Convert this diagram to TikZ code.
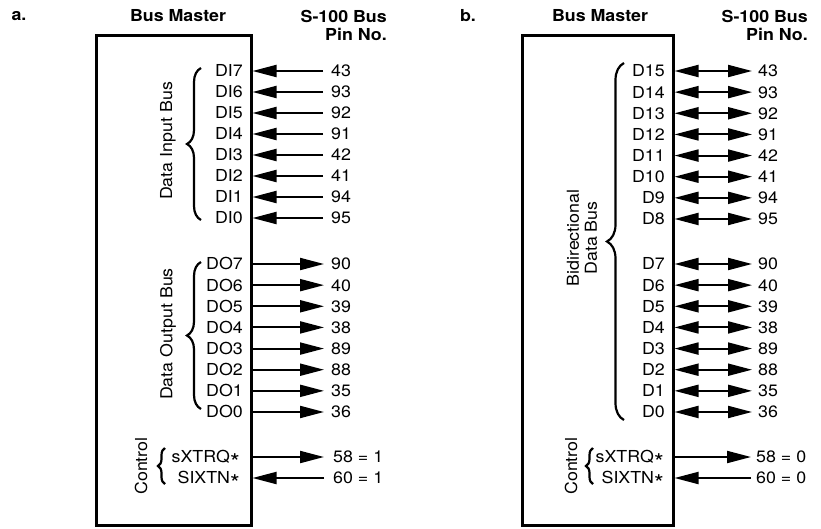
\documentclass[tikz,border=0pt]{standalone}
\usepackage{fontspec}
\setmainfont{TeX Gyre Heros}[FakeStretch=1.08]
\usetikzlibrary{arrows.meta,decorations.pathreplacing}
\newcommand{\astk}{\raisebox{-0.45em}{\scalebox{1.4}{*}}}
\begin{document}
\begin{tikzpicture}[x=1pt,y=-1pt,
  bigtip/.tip={Triangle[length=24pt,width=12pt]},
  txt/.style={font=\fontsize{16.5}{18}\selectfont, inner sep=0pt, text height=11.8pt, text depth=0pt},
  lbl/.style={txt, anchor=east},
  num/.style={txt, anchor=west},
  hdr/.style={font=\bfseries\fontsize{16.5}{18}\selectfont, inner sep=0pt},
  boxst/.style={draw, line width=3pt, inner sep=0pt},
  wire/.style={line width=2pt},
  brc/.style={decorate, decoration={brace, amplitude=#1}, line width=2.2pt},
  vlab/.style={rotate=90, font=\fontsize{16.5}{18}\selectfont, inner sep=0pt, align=center}
]
\useasboundingbox (0,0) rectangle (821,528);

% ---------- panel a ----------
\node[hdr] (ta) at (19,16) {a.};
\node[hdr] (bma) at (178,16) {Bus Master};
\node[hdr, anchor=east] (sa) at (387,16) {S-100 Bus};
\node[hdr, anchor=east] (pa) at (387,34) {Pin No.};
\node[boxst, minimum width=155pt, minimum height=490pt] (boxa) at (173.5,280) {};

\foreach \l/\n [count=\k from 0] in {DI7/43,DI6/93,DI5/92,DI4/91,DI3/42,DI2/41,DI1/94,DI0/95}{
  \node[lbl] (lia\k) at (243,71+21*\k) {\l};
  \node[num] (nia\k) at (331,71+21*\k) {\n};
  \draw[wire,-{bigtip}, shorten <=8pt] (nia\k.west) -- (nia\k.west -| boxa.east);
}
\foreach \l/\n [count=\k from 0] in {DO7/90,DO6/40,DO5/39,DO4/38,DO3/89,DO2/88,DO1/35,DO0/36}{
  \node[lbl] (loa\k) at (243,264+21.14*\k) {\l};
  \node[num] (noa\k) at (331,264+21.14*\k) {\n};
  \draw[wire,-{bigtip}, shorten >=7pt] (noa\k.west -| boxa.east) -- (noa\k.west);
}
\node[lbl] (lxa) at (240,457) {sXTRQ\astk};
\node[num] (nxa) at (333,457) {58 = 1};
\draw[wire,-{bigtip}, shorten >=9pt] (nxa.west -| boxa.east) -- (nxa.west);
\node[lbl] (lsa) at (240,478) {SIXTN\astk};
\node[num] (nsa) at (333,478) {60 = 1};
\draw[wire,-{bigtip}, shorten <=9pt] (nsa.west) -- (nsa.west -| boxa.east);

\draw[brc=14pt] (201,220) -- (201,68);
\node[vlab] (dia) at (168,141) {Data Input Bus};
\draw[brc=14pt] (201,409) -- (201,262);
\node[vlab] (doa) at (168,334) {Data Output Bus};
\draw[brc=7pt] (165,484) -- (165,448);
\node[vlab] (cta) at (141,466) {Control};

% ---------- panel b ----------
\node[hdr] (tb) at (468,16) {b.};
\node[hdr] (bmb) at (600,16) {Bus Master};
\node[hdr, anchor=east] (sb) at (808,16) {S-100 Bus};
\node[hdr, anchor=east] (pb) at (808,34) {Pin No.};
\node[boxst, minimum width=151pt, minimum height=490pt] (boxb) at (597.5,280) {};

\foreach \l/\n [count=\k from 0] in {D15/43,D14/93,D13/92,D12/91,D11/42,D10/41,D9/94,D8/95}{
  \node[lbl] (lhb\k) at (665,71+21.14*\k) {\l};
  \node[num] (nhb\k) at (758,71+21.14*\k) {\n};
  \draw[wire,{bigtip}-{bigtip}, shorten >=6pt] (nhb\k.west -| boxb.east) -- (nhb\k.west);
}
\foreach \l/\n [count=\k from 0] in {D7/90,D6/40,D5/39,D4/38,D3/89,D2/88,D1/35,D0/36}{
  \node[lbl] (llb\k) at (665,264+21.14*\k) {\l};
  \node[num] (nlb\k) at (758,264+21.14*\k) {\n};
  \draw[wire,{bigtip}-{bigtip}, shorten >=6pt] (nlb\k.west -| boxb.east) -- (nlb\k.west);
}
\node[lbl] (lxb) at (664,457) {sXTRQ\astk};
\node[num] (nxb) at (756,457) {58 = 0};
\draw[wire,-{bigtip}, shorten >=5pt] (nxb.west -| boxb.east) -- (nxb.west);
\node[lbl] (lsb) at (664,478) {SIXTN\astk};
\node[num] (nsb) at (756,478) {60 = 0};
\draw[wire,-{bigtip}, shorten <=5pt] (nsb.west) -- (nsb.west -| boxb.east);

\draw[brc=17pt] (624,420) -- (624,63);
\node[vlab] (bdb) at (582,238) {Bidirectional\\Data Bus};
\draw[brc=7pt] (593,484) -- (593,448);
\node[vlab] (ctb) at (571,466) {Control};
\end{tikzpicture}
\end{document}
